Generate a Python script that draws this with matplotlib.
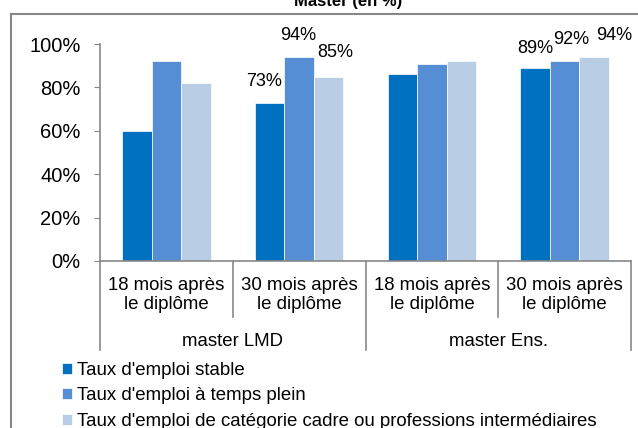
import numpy as np
import matplotlib.pyplot as plt
from matplotlib.lines import Line2D
import matplotlib.transforms as mtransforms

plt.rcParams['font.family'] = ['Liberation Sans', 'DejaVu Sans']

# data
periods = ["18 mois après\nle diplôme", "30 mois après\nle diplôme",
           "18 mois après\nle diplôme", "30 mois après\nle diplôme"]
groups = ["master LMD", "master Ens."]
series = ["Taux d'emploi stable",
          "Taux d'emploi à temps plein",
          "Taux d'emploi de catégorie cadre ou professions intermédiaires"]
stable = [60, 73, 86, 89]
plein = [92, 94, 91, 92]
cadre = [82, 85, 92, 94]
# which bars carry a value label (index of period)
labelled = [1, 3]
yticks = [0, 20, 40, 60, 80, 100]

colors = ["#0070C0", "#558ED5", "#B9CDE5"]
# label offsets in pixels, per series, per labelled period
label_offsets = [[(-6, 21), (0, 19)],
                 [(-1, 22), (7, 22)],
                 [(7, 24), (20, 22)]]

fig = plt.figure(figsize=(6.38, 4.28), dpi=100)
W, H = 638, 428
ax = fig.add_axes([100 / W, (H - 261) / H, 531 / W, 217 / H])

x = np.arange(len(periods))
w = 0.222
for i, vals in enumerate([stable, plein, cadre]):
    pos = x + (i - 1) * w
    ax.bar(pos, vals, w, color=colors[i], edgecolor="white", linewidth=0.5,
           label=series[i], zorder=2)
    for j, k in enumerate(labelled):
        dx, dy = label_offsets[i][j]
        ax.annotate(f"{vals[k]}%", (pos[k], vals[k]), xytext=(dx, dy),
                    textcoords="offset pixels", ha="center", va="center",
                    fontsize=13, color="#000000", annotation_clip=False)

ax.set_xlim(-0.5, len(periods) - 0.5)
ax.set_ylim(0, 100)
ax.set_yticks(yticks)
ax.set_yticklabels([f"{t}%" for t in yticks], fontsize=14.5)
ax.tick_params(axis="y", length=4, color="#888888", pad=10)
ax.set_xticks([])
for s in ["top", "right"]:
    ax.spines[s].set_visible(False)
for s in ["left", "bottom"]:
    ax.spines[s].set_color("#888888")
    ax.spines[s].set_linewidth(1.2)

# hierarchical category axis
trans = mtransforms.blended_transform_factory(ax.transData, ax.transAxes)
for b in np.arange(-0.5, len(periods), 1.0):
    outer = (b + 0.5) % 2 == 0
    depth = -89 / 217 if outer else -56 / 217
    ax.add_line(Line2D([b, b], [0, depth], transform=trans, color="#888888",
                       lw=1.2, clip_on=False))
for j, p in enumerate(periods):
    ax.text(j, -34 / 217, p, transform=trans, ha="center", va="center",
            fontsize=13.4, linespacing=1.1)
for g, name in enumerate(groups):
    ax.text(2 * g + 0.5, -80 / 217, name, transform=trans, ha="center",
            va="center", fontsize=13.4)

# legend
handles, labels = ax.get_legend_handles_labels()
fig.legend(handles, labels, loc="upper left",
           bbox_to_anchor=(62 / W, 1 - 362 / H), frameon=False,
           fontsize=13.4, handlelength=0.55, handleheight=0.55,
           handletextpad=0.25, labelspacing=0.45, borderaxespad=0,
           borderpad=0)

# outer frame and clipped title
fig.add_artist(Line2D([11 / W, 11 / W], [0, 1 - 14 / H], color="#888888",
                      lw=1.5, transform=fig.transFigure))
fig.add_artist(Line2D([11 / W, 1], [1 - 14 / H, 1 - 14 / H], color="#888888",
                      lw=1.5, transform=fig.transFigure))
fig.text(348 / W, 1 - 6 / H, "Master (en %)",
         ha="center", va="baseline", fontsize=12, fontweight="bold")

fig.savefig("out.png", dpi=100)
